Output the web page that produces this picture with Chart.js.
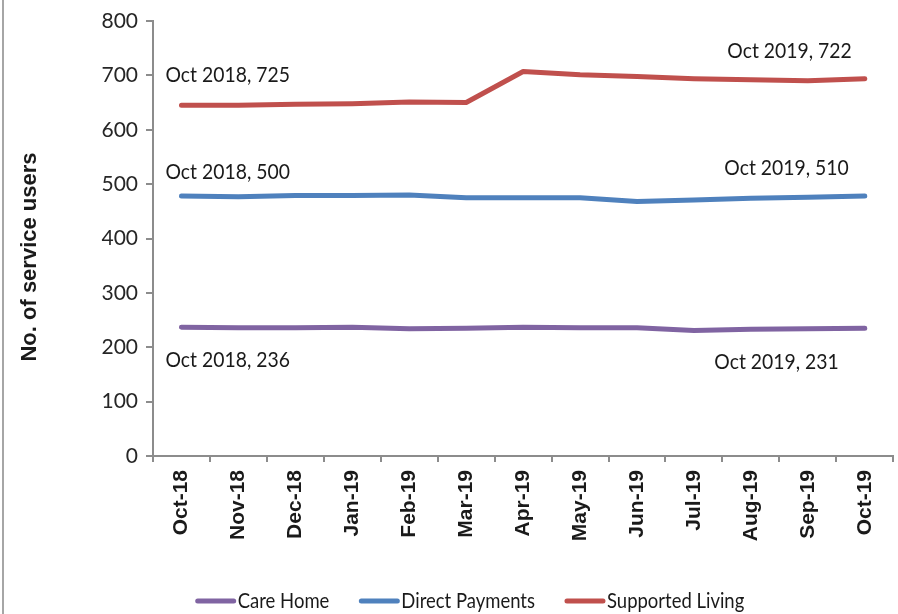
<!DOCTYPE html>
<html>
<head>
<meta charset="utf-8">
<script src="https://cdn.jsdelivr.net/npm/chart.js@4/dist/chart.umd.min.js"></script>
<style>
  html, body { margin: 0; padding: 0; background: #fff; }
  #wrap { position: relative; width: 898px; height: 614px; }
  #edge { position: absolute; left: 2px; top: 0; width: 2px; height: 614px; background: #a6a6a6; }
</style>
</head>
<body>
<div id="wrap">
  <canvas id="chart" width="898" height="614"></canvas>
  <div id="edge"></div>
</div>
<script>
// months on the x axis
const months = ['Oct-18', 'Nov-18', 'Dec-18', 'Jan-19', 'Feb-19', 'Mar-19', 'Apr-19',
                'May-19', 'Jun-19', 'Jul-19', 'Aug-19', 'Sep-19', 'Oct-19'];

// series
const careHome = [237, 236, 236, 237, 234, 235, 237, 236, 236, 231, 233, 234, 235];
const directPayments = [478, 477, 479, 479, 480, 475, 475, 475, 468, 471, 474, 476, 478];
const supportedLiving = [645, 645, 647, 648, 651, 650, 707, 701, 698, 694, 692, 690, 694];

const seriesNames = ['Care Home', 'Direct Payments', 'Supported Living'];
const yTicks = [0, 100, 200, 300, 400, 500, 600, 700, 800];

// callout texts next to first / last points
const calloutTexts = ['Oct 2018, 236', 'Oct 2019, 231', 'Oct 2018, 500', 'Oct 2019, 510',
                      'Oct 2018, 725', 'Oct 2019, 722'];

const colors = ['#8064a2', '#4f81bd', '#c0504d'];
const SOFT = "Lato, 'Open Sans', sans-serif";
const SANS = "'Liberation Sans', Arial, sans-serif";
const SQUEEZE = 0.88; // narrow the Lato text a bit, closer to the original font

// where each callout sits relative to its point: [dataset, index, dx, dy, align]
const calloutPlaces = [
    [0, 0, -16, 33, 'left'], [0, 12, -26, 34, 'right'],
    [1, 0, -16, -24, 'left'], [1, 12, -16, -28, 'right'],
    [2, 0, -16, -30, 'left'], [2, 12, -13, -28, 'right']
];

function narrowText(ctx, text, x, y) {
    ctx.save();
    ctx.translate(x, y);
    ctx.scale(SQUEEZE, 1);
    ctx.fillText(text, 0, 0);
    ctx.restore();
}

const extras = {
    id: 'extras',
    afterDraw(chart) {
        const ctx = chart.ctx;
        const xs = chart.scales.x, ys = chart.scales.y;

        // callouts
        ctx.save();
        ctx.fillStyle = '#1a1a1a';
        ctx.font = '22px ' + SOFT;
        ctx.textBaseline = 'middle';
        calloutPlaces.forEach((p, i) => {
            const v = chart.data.datasets[p[0]].data[p[1]];
            const x = xs.getPixelForValue(p[1]) + p[2];
            const y = ys.getPixelForValue(v) + p[3];
            ctx.textAlign = p[4];
            narrowText(ctx, calloutTexts[i], x, y);
        });
        ctx.restore();

        // y title
        ctx.save();
        ctx.translate(30, 257);
        ctx.rotate(-Math.PI / 2);
        ctx.font = 'bold 22px ' + SANS;
        ctx.fillStyle = '#1a1a1a';
        ctx.textAlign = 'center';
        ctx.textBaseline = 'middle';
        ctx.fillText('No. of service users', 0, 0);
        ctx.restore();

        // legend
        ctx.save();
        ctx.font = '21px ' + SOFT;
        ctx.textBaseline = 'middle';
        const lineLen = 40, gap = 2, between = 30;
        const widths = chart.data.datasets.map(d => lineLen + gap + ctx.measureText(d.label).width * SQUEEZE);
        const total = widths.reduce((a, b) => a + b, 0) + between * (widths.length - 1);
        let x = 470 - total / 2;
        const y = 601;
        chart.data.datasets.forEach((d, i) => {
            ctx.strokeStyle = d.borderColor;
            ctx.lineWidth = 5;
            ctx.lineCap = 'round';
            ctx.beginPath();
            ctx.moveTo(x + 2, y);
            ctx.lineTo(x + lineLen - 2, y);
            ctx.stroke();
            ctx.fillStyle = '#1a1a1a';
            ctx.textAlign = 'left';
            narrowText(ctx, d.label, x + lineLen + gap, y);
            x += widths[i] + between;
        });
        ctx.restore();
    }
};

const allSeries = [careHome, directPayments, supportedLiving];

new Chart(document.getElementById('chart'), {
    type: 'line',
    data: {
        labels: months,
        datasets: allSeries.map((s, i) => ({
            label: seriesNames[i],
            data: s,
            borderColor: colors[i],
            backgroundColor: colors[i],
            borderWidth: 5,
            pointRadius: 0,
            tension: 0,
            borderCapStyle: 'round',
            borderJoinStyle: 'round'
        }))
    },
    options: {
        responsive: false,
        animation: false,
        layout: { padding: { top: 21, right: 0, bottom: 0, left: 0 } },
        plugins: {
            legend: { display: false },
            tooltip: { enabled: false }
        },
        scales: {
            x: {
                offset: true,
                grid: { drawOnChartArea: false, offset: true, tickLength: 6, color: '#8c8c8c', lineWidth: 2 },
                border: { color: '#8c8c8c', width: 2 },
                ticks: {
                    minRotation: 90, maxRotation: 90, padding: 8,
                    color: '#1a1a1a',
                    font: { family: SANS, size: 21, weight: 'bold' }
                },
                afterFit(scale) { scale.height = 158; }
            },
            y: {
                min: 0, max: 800,
                afterBuildTicks(scale) { scale.ticks = yTicks.map(v => ({ value: v })); },
                grid: { drawOnChartArea: false, tickLength: 7, color: '#8c8c8c', lineWidth: 2 },
                border: { color: '#8c8c8c', width: 2 },
                ticks: {
                    padding: 8,
                    color: '#262626',
                    font: { family: SOFT, size: 21 }
                },
                afterFit(scale) { scale.width = 153; }
            }
        }
    },
    plugins: [extras]
});
</script>
</body>
</html>
